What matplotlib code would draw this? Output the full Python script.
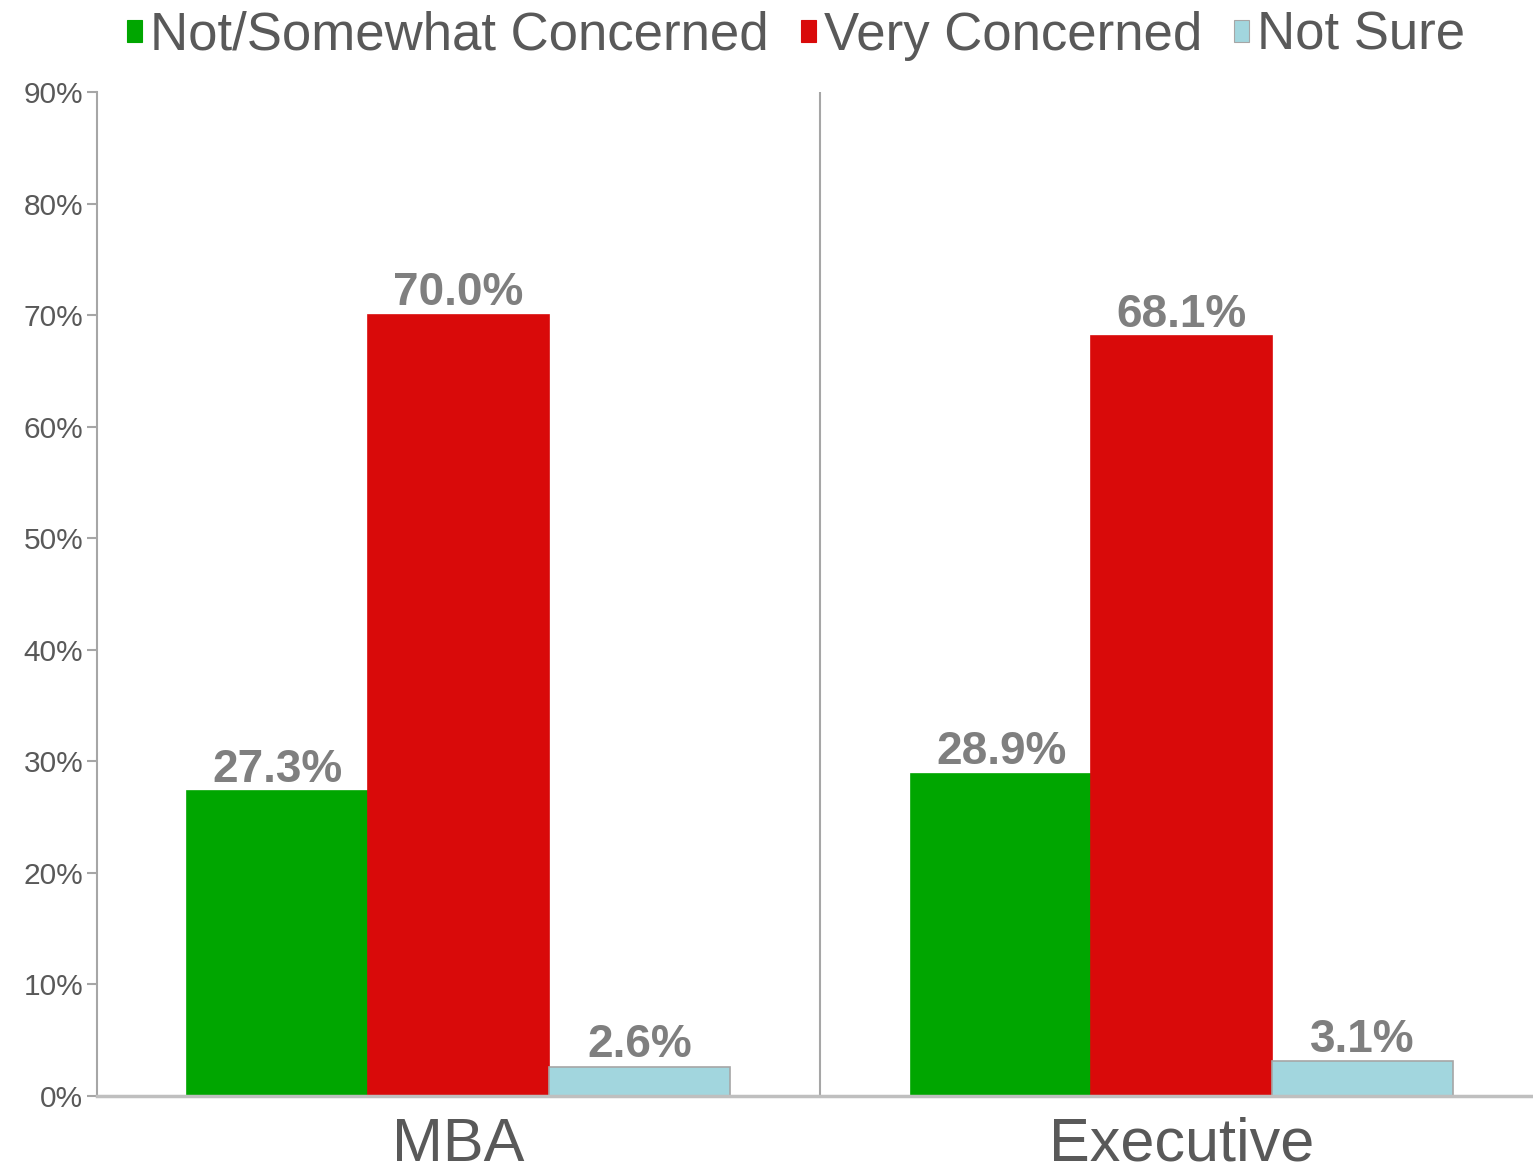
import matplotlib
matplotlib.use("Agg")
import matplotlib.pyplot as plt
from matplotlib.patches import Patch
import numpy as np

plt.rcParams['font.family'] = ['Liberation Sans', 'DejaVu Sans']

categories = ["MBA", "Executive"]
series_names = ["Not/Somewhat Concerned", "Very Concerned", "Not Sure"]
not_somewhat = [27.3, 28.9]
very = [70.0, 68.1]
not_sure = [2.6, 3.1]
series_values = [not_somewhat, very, not_sure]
colors = ["#00A600", "#D90A0A", "#A2D6DE"]
edges = ["#00A600", "#D90A0A", "#A6A6A6"]
yticks = [0, 10, 20, 30, 40, 50, 60, 70, 80, 90]
ytick_labels = [f"{v}%" for v in yticks]

W, H = 1533, 1173
fig = plt.figure(figsize=(W / 100, H / 100), dpi=100)
left = 97 / W
bottom = (H - 1096) / H
top = (H - 92) / H
right = 1543.5 / W
ax = fig.add_axes([left, bottom, right - left, top - bottom])

x = np.arange(len(categories))
bw = 0.25
offsets = [-bw, 0, bw]
for vals, off, c, ec in zip(series_values, offsets, colors, edges):
    bars = ax.bar(x + off, vals, width=bw, color=c, edgecolor=ec, linewidth=1.2, zorder=2)
    for b, v in zip(bars, vals):
        ax.annotate(f"{v:.1f}%", (b.get_x() + b.get_width() / 2, v),
                    xytext=(0, 7), textcoords="offset points",
                    ha="center", va="baseline", fontsize=33, fontweight="bold",
                    color="#7F7F7F")

ax.set_xlim(-0.5, 1.5)
ax.set_ylim(0, 90)
ax.set_yticks(yticks)
ax.set_yticklabels(ytick_labels)
ax.set_xticks(x)
ax.set_xticklabels(categories)
ax.tick_params(axis='y', direction='out', length=7, width=1.5, color="#A6A6A6",
               labelsize=21.5, labelcolor="#595959", pad=3)
ax.tick_params(axis='x', length=0, labelsize=44, labelcolor="#595959", pad=15)

for s in ["top", "right"]:
    ax.spines[s].set_visible(False)
ax.spines["left"].set_color("#A6A6A6")
ax.spines["left"].set_linewidth(1.5)
ax.spines["bottom"].set_color("#BFBFBF")
ax.spines["bottom"].set_linewidth(2.5)
ax.axvline(0.5, color="#A6A6A6", linewidth=1.5, zorder=1)

handles = [Patch(facecolor=c, edgecolor=ec, linewidth=0.8) for c, ec in zip(colors, edges)]
fig.legend(handles, series_names, loc="center", bbox_to_anchor=(796 / W, 1 - 36 / H),
           ncol=3, frameon=False, fontsize=38, handlelength=0.29, handleheight=0.29,
           handletextpad=0.15, columnspacing=0.6, labelcolor="#595959", borderpad=0)

fig.savefig("out.png", dpi=100)
